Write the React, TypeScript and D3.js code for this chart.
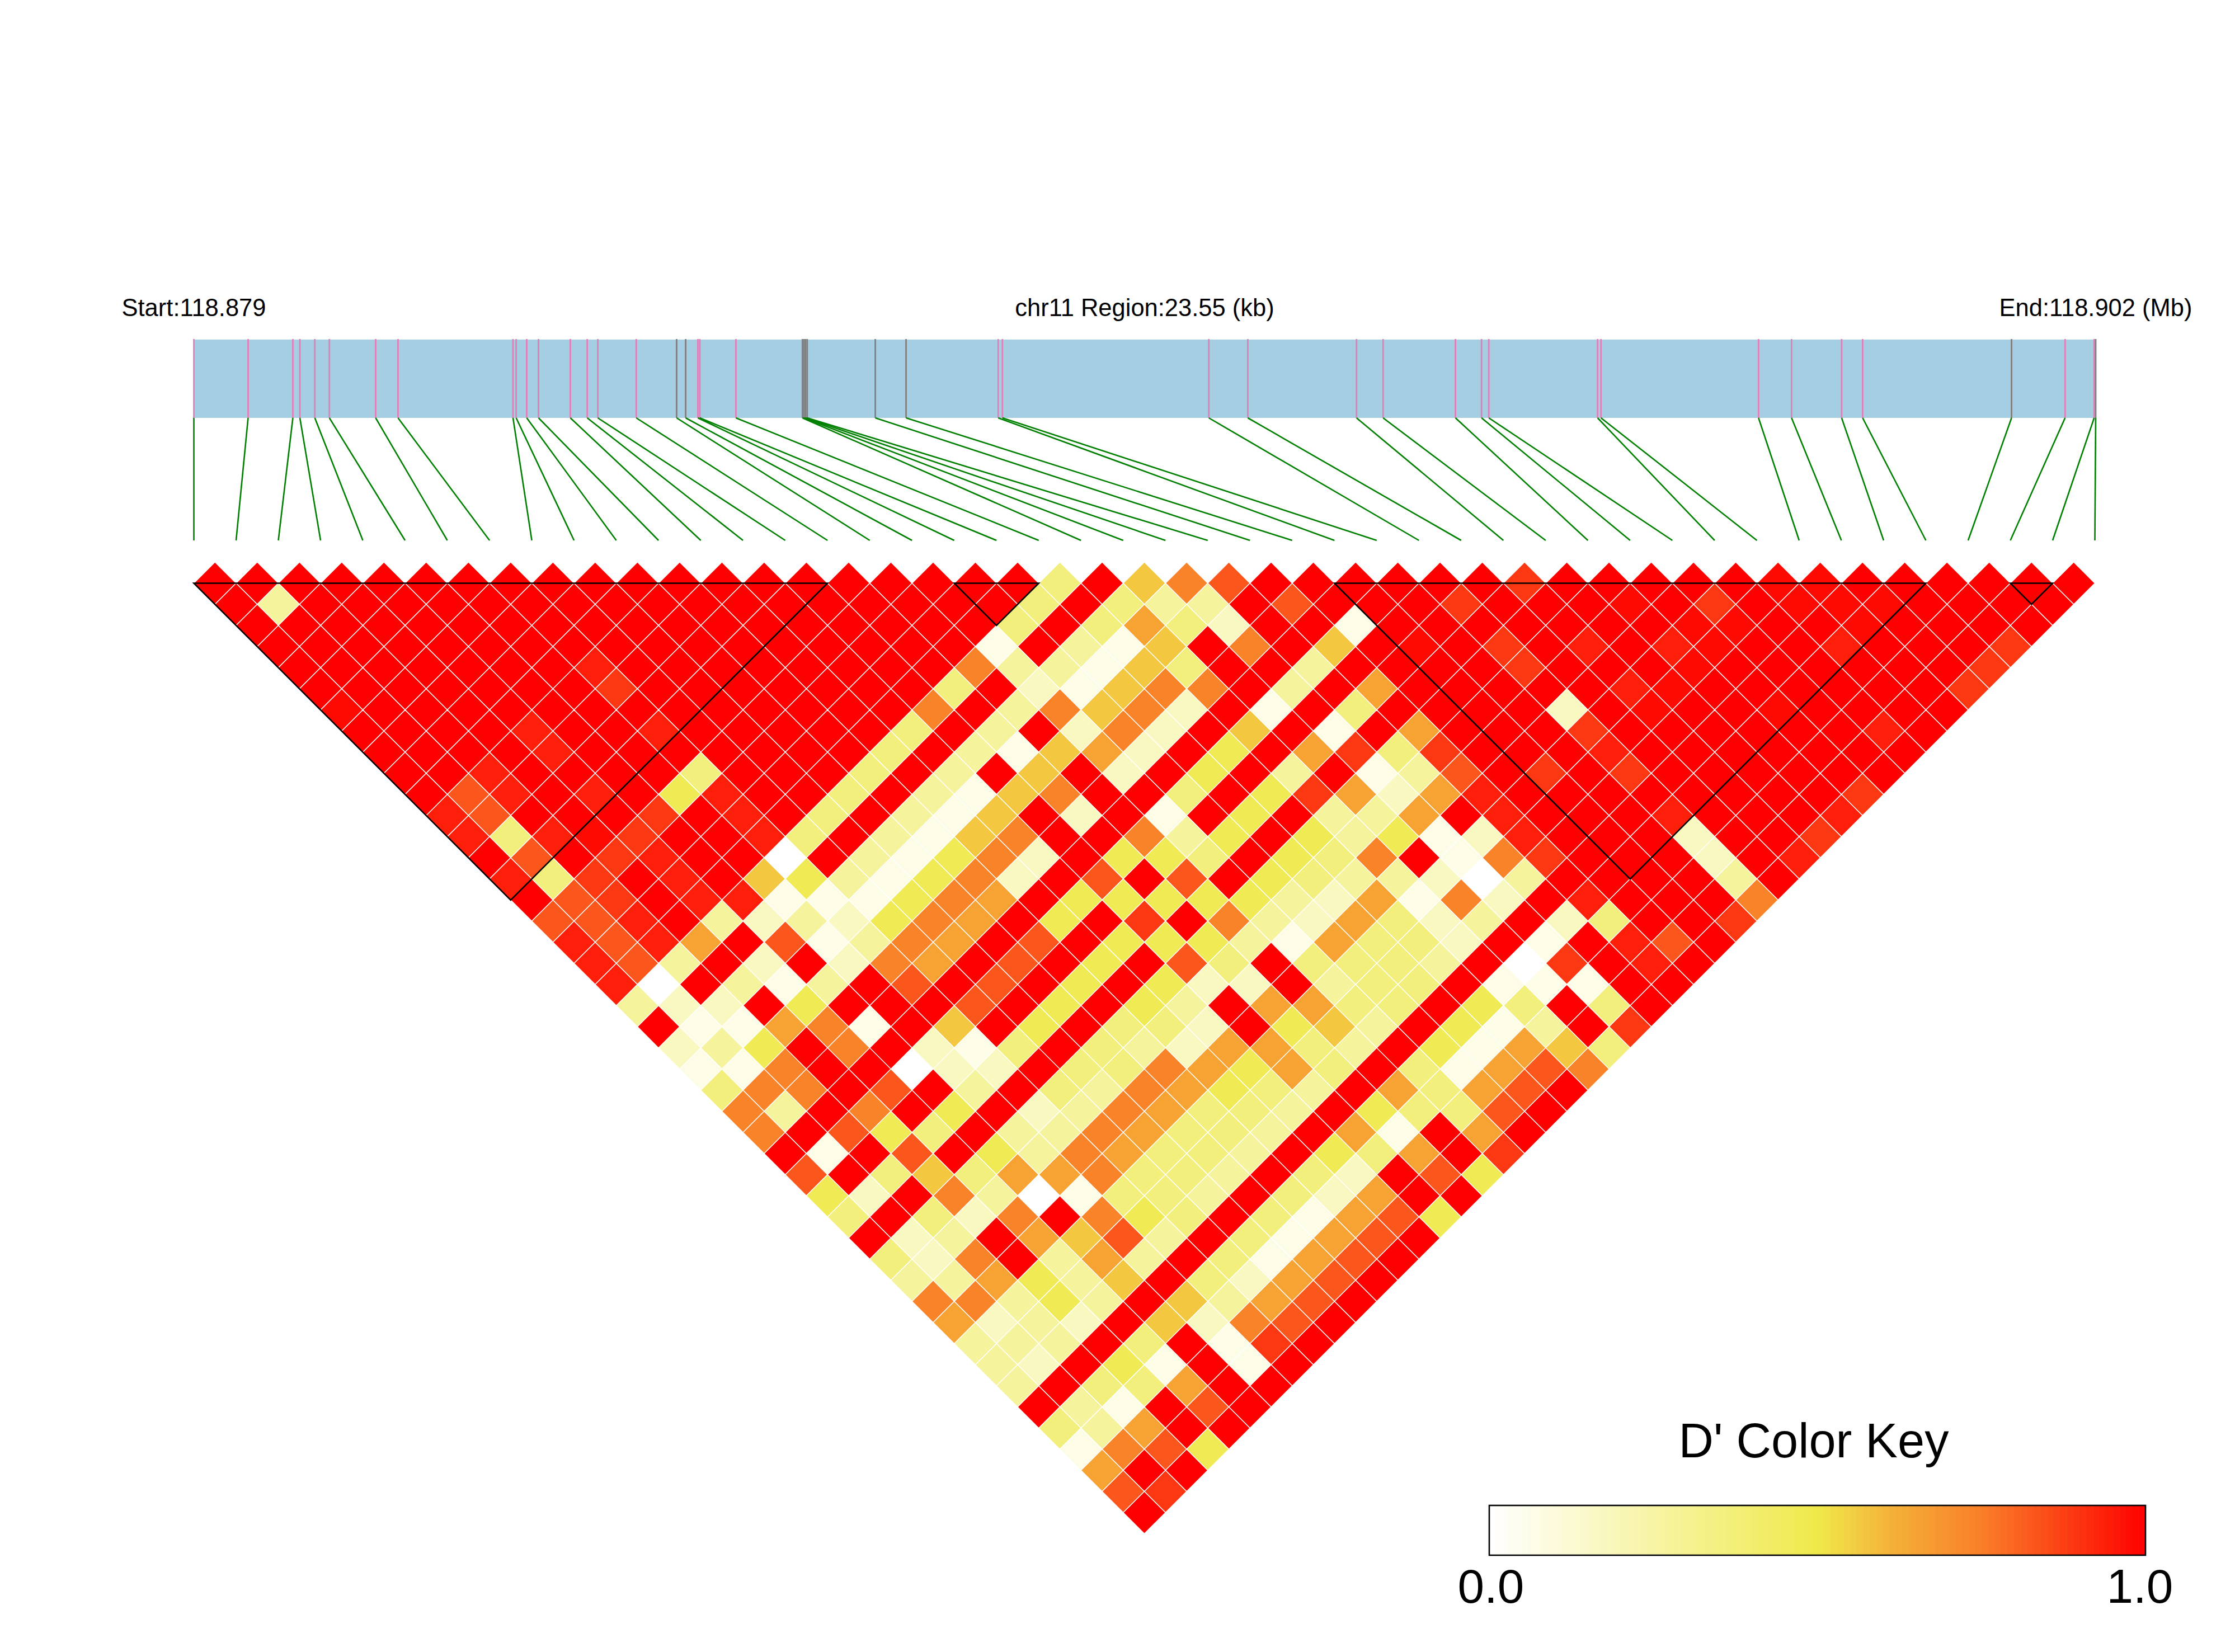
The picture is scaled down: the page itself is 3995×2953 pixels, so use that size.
import * as React from "react";
import * as d3 from "d3";

// SNP positions in kb from the region start
const snpKb = [
  0, 0.672, 1.226, 1.313, 1.498, 1.678, 2.251, 2.528, 3.952, 3.991, 4.122, 4.268,
  4.662, 4.871, 5.002, 5.478, 5.978, 6.09, 6.241, 6.265, 6.712, 7.536, 7.556, 7.575,
  7.595, 8.438, 8.819, 9.96, 10.012, 12.568, 13.051, 14.397, 14.726, 15.622, 15.945,
  16.035, 17.382, 17.424, 19.375, 19.784, 20.404, 20.664, 22.508, 23.171, 23.531, 23.55,
];
const greySnps = [16, 17, 21, 22, 23, 24, 25, 26, 42, 45];

// D' read by eye, bucketed to these levels
const levels: Record<string, number> = {
  "0": 0, "1": 0.07, "2": 0.17, "3": 0.27, "4": 0.36, "5": 0.47, "6": 0.57,
  "7": 0.65, "8": 0.74, "9": 0.83, a: 0.89, b: 0.94, d: 0.98,
};

// one line per SNP distance (1, 2, ...). tokens are "i+j:level", any pair not listed has D' = 1
const belowOne = [
  "41:4 45:6 47:8 49:9 63:a 75:d 77:d",
  "4:3 40:4 44:4 46:3 48:3 52:9 60:a 68:d 72:a 76:d 78:d 80:d",
  "39:4 43:4 45:7 47:4 49:2 55:1 71:d 73:d 79:d",
  "38:1 42:3 44:1 46:6 50:8 54:6 58:d 62:a 66:b 70:b 72:d 78:b 86:a",
  "19:b 37:8 39:3 41:3 43:1 45:6 47:4 53:3 63:a 71:d 85:a",
  "20:a 36:4 40:2 42:1 44:6 46:8 48:8 52:3 56:7 68:b 70:d 84:a",
  "7:d 35:8 39:3 41:8 43:6 45:8 47:2 51:1 55:4 65:2 69:d 75:d",
  "16:b 22:b 34:4 38:3 42:2 44:8 46:2 50:6 54:1 58:7 66:a 80:b",
  "17:b 33:4 37:3 39:1 41:6 43:7 45:2 49:5 53:7 55:a 57:4 59:a 67:b",
  "14:b 24:4 32:4 36:3 40:6 44:2 48:5 52:3 56:1 58:3 60:9 64:a 68:a",
  "13:9 15:b 19:b 23:5 25:b 31:4 35:3 37:1 39:6 41:8 47:4 51:5 53:a 55:7 57:2 59:7 61:b 79:a",
  "12:b 14:9 22:a 26:b 30:4 34:3 36:1 38:6 42:2 46:1 50:5 54:3 56:3 58:7 62:b 70:b 78:b",
  "13:b 15:4 17:b 19:d 21:a 27:b 29:4 33:3 35:1 37:6 39:8 45:8 47:3 49:5 53:5 55:3 57:5 59:1 61:2 63:b 71:2 77:a",
  "16:9 20:a 22:b 28:0 32:3 34:1 36:5 38:8 40:2 44:5 46:5 48:4 52:5 54:4 56:8 60:1 62:8 64:a 72:2 76:b",
  "15:b 17:4 19:a 23:b 27:6 29:5 31:3 33:1 35:5 37:8 39:2 43:9 47:9 51:5 53:4 55:3 57:3 59:2 61:0 63:3 73:3",
  "18:9 20:a 24:b 26:b 28:1 30:1 32:1 34:5 36:8 38:7 42:5 44:5 46:5 48:5 50:5 52:3 54:2 56:7 58:1 60:8 62:2 66:b 74:8",
  "17:9 19:9 21:b 25:3 27:2 29:3 31:2 33:5 35:8 37:7 41:5 45:a 49:8 51:3 53:2 55:7 57:4 59:2 61:3 65:2 67:4 73:a",
  "18:b 20:9 22:b 24:7 28:9 30:1 32:3 34:8 36:7 40:9 44:5 46:5 48:5 50:3 52:1 54:7 56:4 58:4 60:2 64:1 68:b 70:9",
  "19:b 21:9 23:3 27:2 31:2 33:8 35:7 39:9 43:5 47:9 49:4 53:4 55:4 57:4 59:3 63:0 65:a 69:b",
  "20:b 22:0 26:3 28:1 30:3 34:9 38:9 42:5 46:5 48:2 50:2 54:3 56:4 58:4 62:1 64:1 66:1",
  "21:3 23:2 25:2 29:5 37:9 41:5 45:5 47:3 51:7 53:7 55:4 57:4 61:5 63:4 67:4",
  "24:1 26:1 28:7 30:8 32:1 36:6 40:5 44:4 46:4 48:2 52:5 54:6 56:3 60:5 62:1 64:3 68:a",
  "23:2 25:3 27:5 31:8 35:2 37:1 39:4 43:4 45:3 47:2 49:7 51:7 53:4 55:3 59:5 61:1 63:7 65:6 67:4",
  "24:1 26:1 28:8 34:0 36:2 38:2 42:4 44:4 46:8 48:7 50:5 52:7 54:4 58:4 60:1 62:7 64:9 66:8",
  "25:4 27:8 29:8 33:9 37:3 41:4 43:3 45:8 47:7 49:5 51:4 53:3 57:7 59:4 61:7 63:9",
  "26:8 28:3 32:8 36:5 40:2 42:3 44:8 46:7 48:4 50:4 52:3 56:5 58:4 60:4 62:9",
  "27:8 31:9 33:5 35:4 39:3 41:3 43:8 45:7 47:4 49:4 51:3 55:7 57:1 61:7",
  "30:1 34:9 38:5 40:3 42:8 44:7 46:4 48:4 50:3 54:5 56:4 58:7 62:a",
  "29:9 33:4 35:6 37:4 39:7 41:7 43:8 45:4 47:4 49:3 53:4 55:2 59:9 61:5",
  "30:5 32:2 36:8 38:3 40:0 42:1 44:4 46:4 48:3 52:4 54:2 56:7",
  "31:4 35:4 37:2 39:8 43:8 45:5 47:4 51:4 53:1 55:7 57:9 59:5",
  "34:2 36:3 40:7 42:6 44:9 46:3 50:4 52:1 54:7 56:9",
  "33:4 35:2 37:8 41:3 43:7 45:3 49:4 51:1 53:7 55:9",
  "34:3 36:3 38:7 40:5 42:3 44:6 48:4 50:2 52:7 54:9",
  "35:8 37:8 39:3 41:5 43:3 47:6 49:3 51:7 53:9",
  "36:7 38:2 40:3 42:2 46:6 48:2 50:8 52:9",
  "37:3 39:3 41:3 45:4 49:1 51:a",
  "38:3 40:2 44:5 46:1 50:1",
  "39:3 43:4 45:4 47:7",
  "42:3 44:1 48:9",
  "41:4 43:3 45:7",
  "42:1 44:8 46:9 48:5",
  "43:7",
  "44:9 46:a",
  "",
];

// haplotype blocks as first/last SNP index
const blocks = [
  [0, 15],
  [18, 20],
  [27, 41],
  [43, 44],
];

const headerLabels = ["Start:118.879", "chr11 Region:23.55 (kb)", "End:118.902 (Mb)"];
const keyTitle = "D' Color Key";
const keyTicks = [0, 1];

const FONT = "'Liberation Sans', Arial, sans-serif";
const nSnp = snpKb.length;

const color = d3
  .scaleLinear<string>()
  .domain([0, 0.5, 0.62, 0.75, 1])
  .range(["#ffffff", "#efe94a", "#f5ae38", "#f97f28", "#ff0000"]);

export default function App() {
  const barX = d3.scaleLinear().domain([0, 23.55]).range([346.5, 3746]);
  const snpX = d3.scaleLinear().domain([0, nSnp - 1]).range([346.5, 3744.5]);
  const step = (snpX(1) - snpX(0)) / 2;
  const rowY = d3.scaleLinear().domain([1, 2]).range([1042.5, 1042.5 + step]);
  const keyX = d3.scaleLinear().domain([0, 1]).range([2662, 3835]);

  const cells: { i: number; j: number; v: number }[] = [];
  belowOne.forEach((line, idx) => {
    const d = idx + 1;
    const low = new Map(
      line
        .split(" ")
        .filter(Boolean)
        .map((t) => t.split(":") as [string, string])
    );
    for (let i = 0; i + d < nSnp; i++) {
      const j = i + d;
      const code = low.get(String(i + j));
      cells.push({ i, j, v: code === undefined ? 1 : levels[code] });
    }
  });

  const barTop = 607;
  const barBottom = 747;
  const keySteps = d3.range(100);

  return (
    <svg
      width={3995}
      height={2953}
      style={{ position: "absolute", left: 0, top: 0, background: "#fff", fontFamily: FONT }}
    >
      {headerLabels.map((t, idx) => (
        <text key={t} x={[346.5, 2046, 3746][idx]} y={565} fontSize={43.5} textAnchor="middle" fill="#000">
          {t}
        </text>
      ))}

      <rect x={barX(0)} y={barTop} width={barX(23.55) - barX(0)} height={barBottom - barTop} fill="#a6cee3" />
      {snpKb.map((kb, k) => (
        <line
          key={k}
          x1={barX(kb)}
          x2={barX(kb)}
          y1={barTop - 1}
          y2={barBottom}
          stroke={greySnps.includes(k) ? "#808080" : "#e07fb8"}
          strokeWidth={2.8}
        />
      ))}
      {snpKb.map((kb, k) => (
        <line key={k} x1={barX(kb)} y1={barBottom} x2={snpX(k)} y2={966} stroke="#008000" strokeWidth={2.6} />
      ))}

      <g stroke="#fff" strokeWidth={1.4}>
        {cells.map(({ i, j, v }) => {
          const cx = (snpX(i) + snpX(j)) / 2;
          const cy = rowY(j - i);
          return (
            <path
              key={i + "-" + j}
              d={`M${cx},${cy - step}L${cx + step},${cy}L${cx},${cy + step}L${cx - step},${cy}Z`}
              fill={color(v)}
            />
          );
        })}
      </g>

      {blocks.map(([a, b]) => {
        const top = rowY(1);
        const apexY = top + (b - a) * step;
        return (
          <path
            key={a}
            d={`M${snpX(a)},${top}L${snpX(b)},${top}L${(snpX(a) + snpX(b)) / 2},${apexY}Z`}
            fill="none"
            stroke="#000"
            strokeWidth={2.6}
          />
        );
      })}

      <text x={3242} y={2605} fontSize={86.5} textAnchor="middle" fill="#000">
        {keyTitle}
      </text>
      {keySteps.map((s) => (
        <rect
          key={s}
          x={keyX(s / 100)}
          y={2691}
          width={keyX(1) / 100 - keyX(0) / 100 + 0.6}
          height={89}
          fill={color((s + 0.5) / 100)}
        />
      ))}
      <rect x={keyX(0)} y={2691} width={keyX(1) - keyX(0)} height={89} fill="none" stroke="#000" strokeWidth={2.6} />
      {keyTicks.map((t) => (
        <text key={t} x={t === 0 ? keyX(t) + 3 : keyX(t) - 10} y={2865} fontSize={85.5} textAnchor="middle" fill="#000">
          {t.toFixed(1)}
        </text>
      ))}
    </svg>
  );
}
